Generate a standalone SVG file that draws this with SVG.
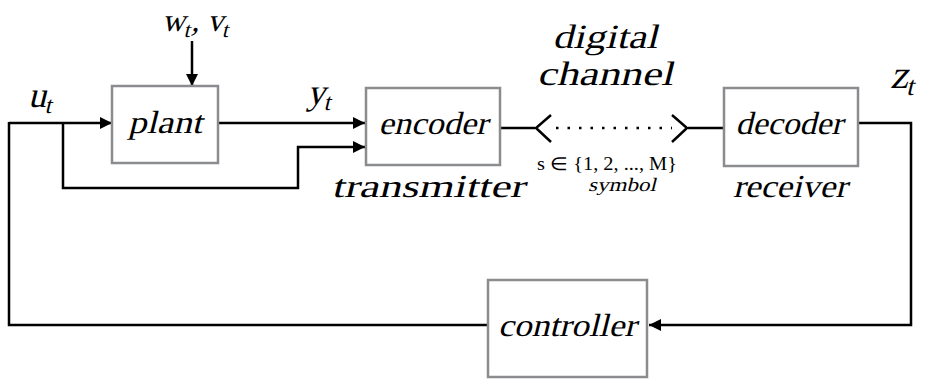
<svg xmlns="http://www.w3.org/2000/svg" width="927" height="379" viewBox="0 0 927 379">
<style>
.box{fill:#fff;stroke:#8a8c8f;stroke-width:2.5}
.ln{fill:none;stroke:#000;stroke-width:2.5}
.t{font-family:'Liberation Serif','Times New Roman',serif;font-style:normal;fill:#000}
</style>
<defs>
<marker id="arr" viewBox="0 0 12 12" markerWidth="12" markerHeight="12" refX="12" refY="6" orient="auto" markerUnits="userSpaceOnUse">
<path d="M0,0 L12,6 L0,12 Z" fill="#000"/>
</marker>
</defs>
<g id="connectors">
<path class="ln" d="M9,123 H112" marker-end="url(#arr)"/>
<path class="ln" d="M63,123 V188 H298 V147 H365" marker-end="url(#arr)"/>
<path class="ln" d="M192,41 V86" marker-end="url(#arr)"/>
<path class="ln" d="M218,123 H365" marker-end="url(#arr)"/>
<path class="ln" d="M500,128 H535"/>
<path class="ln" d="M551,115 L536,128 L551,142"/>
<path d="M556,128 H672" fill="none" stroke="#000" stroke-width="2.5" stroke-dasharray="2.5 9" stroke-linecap="butt"/>
<path class="ln" d="M672,115 L687,128 L672,142"/>
<path class="ln" d="M688,128 H724"/>
<path class="ln" d="M858,123 H911 V325 H649" marker-end="url(#arr)"/>
<path class="ln" d="M488,325 H9 V122"/>
</g>
<g id="plant">
<rect class="box" x="112" y="86" width="106" height="77"/>
<text class="t" transform="translate(165,133) skewX(-14)" font-size="32" text-anchor="middle" textLength="74" lengthAdjust="spacingAndGlyphs">plant</text>
</g>
<g id="encoder">
<rect class="box" x="366" y="88" width="134" height="77"/>
<text class="t" transform="translate(433,134) skewX(-14)" font-size="32" text-anchor="middle" textLength="109" lengthAdjust="spacingAndGlyphs">encoder</text>
<text class="t" transform="translate(428,197) skewX(-14)" font-size="32" text-anchor="middle" textLength="193" lengthAdjust="spacingAndGlyphs">transmitter</text>
</g>
<g id="decoder">
<rect class="box" x="724" y="88" width="134" height="78"/>
<text class="t" transform="translate(789,134) skewX(-14)" font-size="32" text-anchor="middle" textLength="107" lengthAdjust="spacingAndGlyphs">decoder</text>
<text class="t" transform="translate(790,197) skewX(-14)" font-size="32" text-anchor="middle" textLength="114" lengthAdjust="spacingAndGlyphs">receiver</text>
</g>
<g id="controller">
<rect class="box" x="488" y="280" width="159" height="97"/>
<text class="t" transform="translate(567,336) skewX(-14)" font-size="32" text-anchor="middle" textLength="138" lengthAdjust="spacingAndGlyphs">controller</text>
</g>
<g id="channel">
<text class="t" transform="translate(605,48) skewX(-14)" font-size="34" text-anchor="middle" textLength="105" lengthAdjust="spacingAndGlyphs">digital</text>
<text class="t" transform="translate(605,85) skewX(-14)" font-size="34" text-anchor="middle" textLength="136" lengthAdjust="spacingAndGlyphs">channel</text>
<text class="t" x="607" y="170" font-size="18" text-anchor="middle" textLength="140" lengthAdjust="spacingAndGlyphs">s ∈ {1, 2, ..., M}</text>
<text class="t" transform="translate(622,191) skewX(-14)" font-size="19" text-anchor="middle" textLength="68" lengthAdjust="spacingAndGlyphs">symbol</text>
</g>
<g id="labels">
<text class="t" transform="translate(162,31) skewX(-14)" font-size="32">w<tspan font-size="22" dy="6">t</tspan><tspan dy="-6">, v</tspan><tspan font-size="22" dy="6">t</tspan></text>
<text class="t" transform="translate(28,107) skewX(-14)" font-size="36">u<tspan font-size="24" dy="6">t</tspan></text>
<text class="t" transform="translate(307,104) skewX(-14)" font-size="36">y<tspan font-size="24" dy="6">t</tspan></text>
<text class="t" transform="translate(890,88) skewX(-14)" font-size="40">z<tspan font-size="27" dy="7">t</tspan></text>
</g>
</svg>
